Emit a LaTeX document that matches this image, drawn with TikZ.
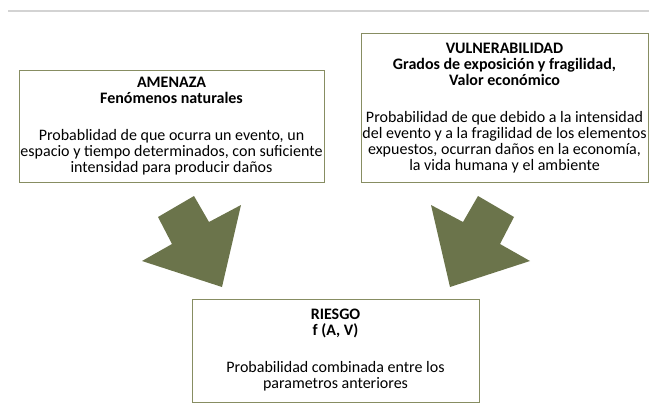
\documentclass[tikz,border=0pt]{standalone}
\usepackage{fontspec}
\setmainfont{Carlito}
\definecolor{olivefill}{HTML}{6B744B}
\definecolor{oliveline}{HTML}{878D62}
\definecolor{rulegray}{HTML}{D3D3D3}
\newcommand{\setup}{
    % left arrow
    \coordinate (a0) at (222,287);
    \coordinate (a1) at (142,261);
    \coordinate (a2) at (172,244);
    \coordinate (a3) at (158,217);
    \coordinate (a4) at (194,196);
    \coordinate (a5) at (209,222);
    \coordinate (a6) at (241,205);

    % right arrow
    \coordinate (b0) at (450,287);
    \coordinate (b1) at (530,261);
    \coordinate (b2) at (500,244);
    \coordinate (b3) at (514,217);
    \coordinate (b4) at (478,196);
    \coordinate (b5) at (463,222);
    \coordinate (b6) at (431,205);
}
\newcommand{\flecha}[7]{
  \fill[olivefill] (#1) -- (#2) -- (#3) -- (#4) -- (#5) -- (#6) -- (#7) -- cycle;
}
\begin{document}
\begin{tikzpicture}[x=1pt,y=-1pt]
          \tikzstyle{caja}=[draw=oliveline, line width=1pt, align=center, inner sep=0pt,
                            font=\fontsize{16}{16}\selectfont]
          \useasboundingbox (0,0) rectangle (649,420);
          \setup;

          \coordinate (r0) at (8,11);
          \coordinate (r1) at (649,11);
          \draw[rulegray, line width=1.5pt] (r0) -- (r1); % top rule

          \node[caja, minimum width=305pt, minimum height=111pt] (amenaza) at (171.5,126.5)
            {\textbf{AMENAZA}\\ \textbf{Fenómenos naturales}\\[21pt]
             Probablidad de que ocurra un evento, un\\
             espacio y tiempo determinados, con suficiente\\
             intensidad para producir daños};
          \node[caja, minimum width=287pt, minimum height=148pt] (vulnera) at (504.5,108)
            {\textbf{VULNERABILIDAD}\\ \textbf{Grados de exposición y fragilidad,}\\
             \textbf{Valor económico}\\[21pt]
             Probabilidad de que debido a la intensidad\\
             del evento y a la fragilidad de los elementos\\
             expuestos, ocurran daños en la economía,\\
             la vida humana y el ambiente};
          \node[caja, minimum width=287pt, minimum height=103pt] (riesgo) at (335.5,350.5)
            {\textbf{RIESGO}\\ \textbf{f (A, V)}\\[21pt]
             Probabilidad combinada entre los\\
             parametros anteriores};

          \flecha{a0}{a1}{a2}{a3}{a4}{a5}{a6};
          \flecha{b0}{b1}{b2}{b3}{b4}{b5}{b6};
        \end{tikzpicture}
\end{document}
